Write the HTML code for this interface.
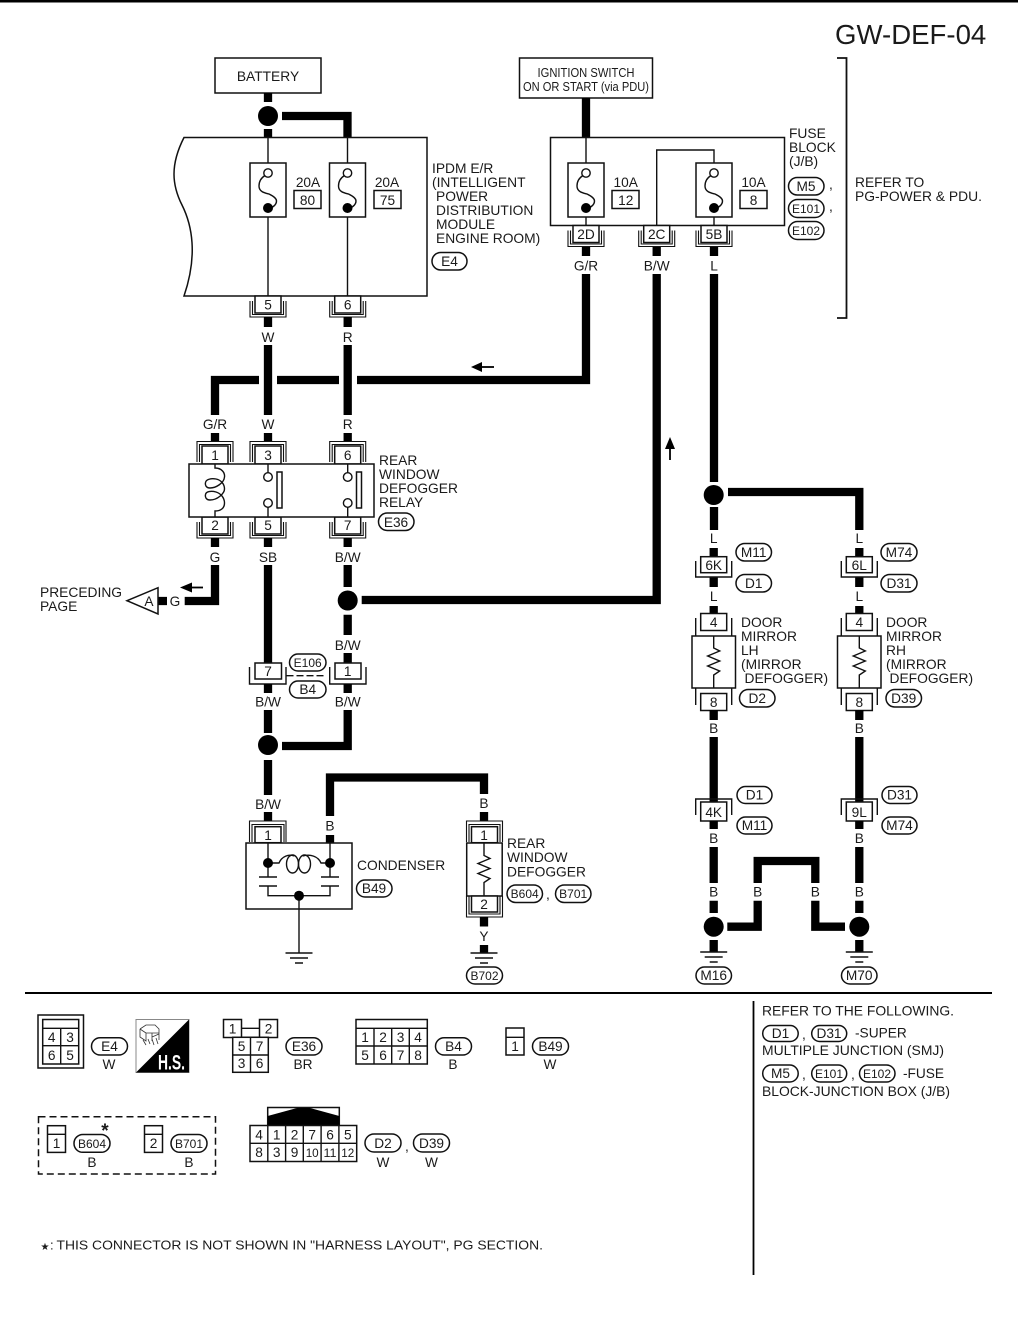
<!DOCTYPE html>
<html lang="en">
<head>
<meta charset="utf-8">
<title>GW-DEF-04</title>
<style>
html,body{margin:0;padding:0;background:#fff}
svg{display:block}
text{font-family:"Liberation Sans",Arial,sans-serif;font-size:13.8px;fill:#1a1a1a}
.m{text-anchor:middle}
.s{font-size:13.7px}
.c{font-size:11.8px}
.w{fill:none;stroke:#000;stroke-width:8.3}
.t{fill:none;stroke:#111;stroke-width:1.4}
.u{fill:none;stroke:#111;stroke-width:1.1}
.a{fill:none;stroke:#000;stroke-width:1.8}
.b{fill:#fff;stroke:#111;stroke-width:1.5}
.p{fill:#fff;stroke:#111;stroke-width:1.5}
</style>
</head>
<body>
<svg xmlns="http://www.w3.org/2000/svg" width="1018" height="1329" viewBox="0 0 1018 1329">
<defs>
<g id="fuse"><rect class="b" x="-18" y="0" width="36" height="54"/><path class="t" d="M-3,12.500C-7,15-9,19-9,23C-9,29-3,30 1,31C5,33 8.500,35 8.500,38C8.500,41 6,44 2,45"/><circle cx="0" cy="10" r="4.200" fill="#fff" stroke="#111" stroke-width="1.400"/><circle cx="0" cy="45" r="5" fill="#000"/></g>
<g id="pinB"><path class="u" d="M-18,5V21H18V5M-15.500,5V18.500H15.500V5"/><rect class="b" x="-13" y="0" width="26" height="17"/></g>
<g id="pinT"><path class="u" d="M-18,16V-4.500H18V16M-15.500,16V-1.500H15.500V16"/><rect class="b" x="-13" y="0" width="26" height="18"/></g>
<g id="gnd"><path class="t" d="M-13.500,0H13.500M-9,5H9M-4,10H4"/></g>
<g id="res"><path class="t" d="M0,0V12L6,15L-6,20L6,25L-6,30L6,35L0,39V52"/></g>
</defs>

<rect x="0" y="0" width="1018" height="2.500" fill="#000"/>
<text x="835" y="44" style="font-size:27.600px">GW-DEF-04</text>

<!-- battery -->
<rect class="b" x="215" y="58" width="106" height="35"/>
<text class="m" x="268" y="81">BATTERY</text>
<path class="w" d="M268,93V102M268,129V138M282,116H347.500V138"/>
<circle cx="268" cy="116" r="10" fill="#000"/>

<!-- IPDM -->
<path class="b" d="M184,137.500H427V296H184C198,255 192,225 182,205C172,185 170,165 184,137.500Z"/>
<path class="t" d="M268,137V296M347.500,137V296"/>
<use href="#fuse" x="268" y="163"/>
<use href="#fuse" x="347.500" y="163"/>
<text class="m s" x="308" y="187">20A</text><rect class="b" x="294" y="190.500" width="27" height="18"/><text class="m s" x="307.500" y="205">80</text>
<text class="m s" x="387" y="187">20A</text><rect class="b" x="374" y="190.500" width="27" height="18"/><text class="m s" x="387.500" y="205">75</text>
<text x="432" y="173">IPDM E/R</text>
<text x="432" y="187">(INTELLIGENT</text>
<text x="436" y="201">POWER</text>
<text x="436" y="215">DISTRIBUTION</text>
<text x="436" y="229">MODULE</text>
<text x="436" y="243">ENGINE ROOM)</text>
<rect class="p" x="432" y="252.500" width="35" height="17.500" rx="8.700"/><text class="m s" x="449.500" y="266">E4</text>
<use href="#pinB" x="268" y="296"/><text class="m s" x="268" y="309.500">5</text>
<use href="#pinB" x="347.700" y="296"/><text class="m s" x="347.700" y="309.500">6</text>

<!-- ignition and fuse block -->
<rect class="b" x="519.500" y="58" width="133" height="40"/>
<text class="m" x="586" y="77" textLength="97" lengthAdjust="spacingAndGlyphs" style="font-size:13px">IGNITION SWITCH</text>
<text class="m" x="586" y="91" textLength="126" lengthAdjust="spacingAndGlyphs" style="font-size:13px">ON OR START (via PDU)</text>
<path class="w" d="M586,98V138"/>
<rect class="b" x="550.500" y="137.500" width="234" height="88"/>
<path class="t" d="M586,137V225M656.700,225V150H714V163M714,217V225"/>
<use href="#fuse" x="586" y="163"/>
<use href="#fuse" x="714" y="163"/>
<text class="m s" x="625.700" y="187">10A</text><rect class="b" x="612" y="190.500" width="27" height="18"/><text class="m s" x="625.700" y="205">12</text>
<text class="m s" x="753.500" y="187">10A</text><rect class="b" x="740" y="190.500" width="27" height="18"/><text class="m s" x="753.500" y="205">8</text>
<use href="#pinB" x="586" y="225.500"/><text class="m s" x="586" y="239">2D</text>
<use href="#pinB" x="656.700" y="225.500"/><text class="m s" x="656.700" y="239">2C</text>
<use href="#pinB" x="714" y="225.500"/><text class="m s" x="714" y="239">5B</text>
<path class="w" d="M586,247V256M656.700,247V256M714,247V256"/>
<text class="m s" x="586" y="270.700">G/R</text><text class="m s" x="656.700" y="270.700">B/W</text><text class="m s" x="714" y="270.700">L</text>
<text x="789" y="138">FUSE</text><text x="789" y="152">BLOCK</text><text x="789" y="166">(J/B)</text>
<rect class="p" x="788.500" y="177.500" width="35.500" height="17.500" rx="8.700"/><text class="m s" x="806" y="191">M5</text><text x="829" y="189" class="s">,</text>
<rect class="p" x="788.500" y="199.500" width="35.500" height="18" rx="9"/><text class="m c" x="806" y="213" textLength="28" lengthAdjust="spacingAndGlyphs">E101</text><text x="829" y="211" class="s">,</text>
<rect class="p" x="788.500" y="221.500" width="35.500" height="18" rx="9"/><text class="m c" x="806" y="235" textLength="28" lengthAdjust="spacingAndGlyphs">E102</text>
<path class="t" d="M837,58H846.500V318H837" style="stroke-width:1.800"/>
<text x="855" y="187">REFER TO</text>
<text x="855" y="201" textLength="127" lengthAdjust="spacingAndGlyphs">PG-POWER &amp; PDU.</text>

<!-- main wires -->
<path class="w" d="M268,317V327M347.700,317V327M268,345V415M347.700,345V415M215,415V380H259M277,380H339M357,380H586V274"/>
<path class="w" d="M215,433V442M268,433V442M347.700,433V442"/>
<path class="w" d="M656.700,274V600H361.700M714,274V482M714,507V530M728,492H859.300V530"/>
<text class="m s" x="268" y="342">W</text><text class="m s" x="347.700" y="342">R</text>
<text class="m s" x="215" y="429">G/R</text><text class="m s" x="268" y="429">W</text><text class="m s" x="347.700" y="429">R</text>
<path d="M471,367L482,362V372Z" fill="#000"/><path class="a" d="M480,367H494"/>
<path d="M670,437L665,449H675Z" fill="#000"/><path class="a" d="M670,447V460"/>
<circle cx="713.700" cy="495" r="10" fill="#000"/>

<!-- relay -->
<use href="#pinT" x="215" y="446"/><text class="m s" x="215" y="460">1</text>
<use href="#pinT" x="268" y="446"/><text class="m s" x="268" y="460">3</text>
<use href="#pinT" x="347.700" y="446"/><text class="m s" x="347.700" y="460">6</text>
<use href="#pinB" x="215" y="517"/><text class="m s" x="215" y="530">2</text>
<use href="#pinB" x="268" y="517"/><text class="m s" x="268" y="530">5</text>
<use href="#pinB" x="347.700" y="517"/><text class="m s" x="347.700" y="530">7</text>
<rect class="b" x="189" y="464" width="185" height="53"/>
<path class="t" d="M215,464V468C222,468 225,473 224.500,477C224,483 216,488 210,488C206,488 205,485 205.500,482.500C206,479.500 211,478 216,479C221,480 224.500,484 224.500,489C224.500,493 218,500 210,500C206,500 205,497 205.500,494.500C206,491.500 211,490.500 216,492C221,493.500 224.500,498 224.500,503C224.500,508 221,511 215,511V517"/>
<path class="t" d="M268,464V472.500M268,507.500V516.500M347.700,464V472.500M347.700,507.500V516.500"/>
<circle cx="268" cy="477" r="4.300" fill="#fff" stroke="#111" stroke-width="1.400"/><circle cx="268" cy="503" r="4.300" fill="#fff" stroke="#111" stroke-width="1.400"/>
<circle cx="347.700" cy="477" r="4.300" fill="#fff" stroke="#111" stroke-width="1.400"/><circle cx="347.700" cy="503" r="4.300" fill="#fff" stroke="#111" stroke-width="1.400"/>
<rect class="b" x="277" y="472" width="5" height="36"/><rect class="b" x="356.500" y="472" width="5" height="36"/>
<text x="379" y="465">REAR</text><text x="379" y="479">WINDOW</text><text x="379" y="493">DEFOGGER</text><text x="379" y="507">RELAY</text>
<rect class="p" x="378.500" y="513" width="35.500" height="17.500" rx="8.700"/><text class="m s" x="396" y="527">E36</text>

<!-- lower left wires -->
<path class="w" d="M215,538V547M268,538V547M347.700,538V547"/>
<text class="m s" x="215" y="562">G</text><text class="m s" x="268" y="562">SB</text><text class="m s" x="347.700" y="562">B/W</text>
<path class="w" d="M215,565V601H184.700M158,601H167"/>
<text class="m s" x="175" y="606">G</text>
<path d="M180,587.500L192,582.500V592.500Z" fill="#000"/><path class="a" d="M190,587.500H203"/>
<path class="b" d="M127,600.700L158,587.700V614Z"/><text class="m s" x="149" y="606">A</text>
<text x="40" y="597">PRECEDING</text><text x="40" y="611">PAGE</text>
<path class="w" d="M268,565V663M347.700,565V587M347.700,614.700V635M347.700,653V663"/>
<circle cx="347.700" cy="600.500" r="10" fill="#000"/>
<text class="m s" x="347.700" y="650">B/W</text>
<path class="t" d="M249.500,667V684H286V667M329.700,667V684H366V667"/>
<rect class="b" x="255" y="663" width="26.500" height="16"/><text class="m s" x="268" y="676">7</text>
<rect class="b" x="335" y="663" width="26" height="16"/><text class="m s" x="347.700" y="676">1</text>
<path class="t" d="M286.500,675.700H326" stroke-dasharray="7 3"/>
<rect class="p" x="289.500" y="654" width="36.500" height="17" rx="8.500"/><text class="m c" x="307.700" y="667" textLength="28" lengthAdjust="spacingAndGlyphs">E106</text>
<rect class="p" x="289.500" y="681" width="36.500" height="17" rx="8.500"/><text class="m s" x="307.700" y="694">B4</text>
<path class="w" d="M268,684V693M347.700,684V693"/>
<text class="m s" x="268" y="706.700">B/W</text><text class="m s" x="347.700" y="706.700">B/W</text>
<path class="w" d="M268,710V733M268,760V795M347.700,710V746H282"/>
<circle cx="268" cy="745" r="10" fill="#000"/>

<!-- condenser -->
<text class="m s" x="268" y="809">B/W</text>
<path class="w" d="M268,812V821M330,816V777.500H484V794M484,812V821M330,835V843"/>
<text class="m s" x="330" y="830.700">B</text><text class="m s" x="484" y="808">B</text>
<path class="u" d="M249.500,842V821H286V842M252,842V824.500H284V842"/>
<rect class="b" x="255" y="826.700" width="26" height="16"/><text class="m s" x="268" y="840">1</text>
<rect class="b" x="246" y="843" width="106" height="66"/>
<path class="t" d="M268,843V877M259,877H277M259,886H277M268,886V895.700H330V886M321,886H339M321,877H339M330,877V843M299,895.700V953"/>
<path class="t" d="M268,863H279C282,856 289,854 294,856M303,856C310,854 318,856 321,863H330"/>
<ellipse class="t" cx="292.500" cy="864" rx="6" ry="9"/><ellipse class="t" cx="304.500" cy="864" rx="6" ry="9"/>
<circle cx="268" cy="863" r="5" fill="#000"/><circle cx="330" cy="863" r="5" fill="#000"/><circle cx="299" cy="895.700" r="5" fill="#000"/>
<use href="#gnd" x="299" y="953"/>
<text x="357" y="870">CONDENSER</text>
<rect class="p" x="356.500" y="880" width="35.500" height="17" rx="8.500"/><text class="m s" x="374" y="893">B49</text>

<!-- defogger -->
<path class="u" d="M466.500,842V821H502.500V842M469,842V824.500H500V842"/>
<rect class="b" x="471.500" y="826.700" width="26" height="16"/><text class="m s" x="484" y="840">1</text>
<rect class="b" x="466.700" y="843" width="35.500" height="53"/>
<use href="#res" x="484" y="843.500"/>
<path class="u" d="M466.500,896V917H502.500V896M469,896V914H500V896"/>
<rect class="b" x="471.500" y="896" width="26" height="16"/><text class="m s" x="484" y="909">2</text>
<path class="w" d="M484,917V926.500M484,945V953"/>
<text class="m s" x="484" y="941">Y</text>
<use href="#gnd" x="484" y="953"/>
<rect class="p" x="466.500" y="967" width="36" height="17" rx="8.500"/><text class="m c" x="484.500" y="980" textLength="28" lengthAdjust="spacingAndGlyphs">B702</text>
<text x="507" y="848">REAR</text><text x="507" y="862">WINDOW</text><text x="507" y="876.500">DEFOGGER</text>
<rect class="p" x="507" y="885" width="35.500" height="17.500" rx="8.700"/><text class="m c" x="524.700" y="898" textLength="28" lengthAdjust="spacingAndGlyphs">B604</text>
<text x="546" y="899" class="s">,</text>
<rect class="p" x="555.500" y="885" width="35.500" height="17.500" rx="8.700"/><text class="m c" x="573.200" y="898" textLength="28" lengthAdjust="spacingAndGlyphs">B701</text>

<!-- door mirrors -->
<text class="m s" x="713.700" y="543">L</text><text class="m s" x="859.300" y="543">L</text>
<path class="w" d="M713.700,548V557M859.300,548V557M713.700,577V587M859.300,577V587M713.700,606V614M859.300,606V614"/>
<path class="t" d="M695.700,561V577H731.700V561M841.300,561V577H877.300V561"/>
<rect class="b" x="700.700" y="556.700" width="26" height="16"/><text class="m s" x="713.700" y="570">6K</text>
<rect class="b" x="846.300" y="556.700" width="26" height="16"/><text class="m s" x="859.300" y="570">6L</text>
<rect class="p" x="736" y="543.500" width="35.500" height="17.500" rx="8.700"/><text class="m s" x="753.700" y="557">M11</text>
<rect class="p" x="736" y="574.500" width="35.500" height="17.500" rx="8.700"/><text class="m s" x="753.700" y="588">D1</text>
<rect class="p" x="881" y="543.500" width="36" height="17.500" rx="8.700"/><text class="m s" x="899" y="557">M74</text>
<rect class="p" x="881" y="574.500" width="36" height="17.500" rx="8.700"/><text class="m s" x="899" y="588">D31</text>
<text class="m s" x="713.700" y="601">L</text><text class="m s" x="859.300" y="601">L</text>
<path class="t" d="M695.700,618V636M731.700,618V636M695.700,688V705M731.700,688V705M841.300,618V636M877.300,618V636M841.300,688V705M877.300,688V705"/>
<rect class="b" x="700.700" y="613.500" width="26" height="17"/><text class="m s" x="713.700" y="627">4</text>
<rect class="b" x="846.300" y="613.500" width="26" height="17"/><text class="m s" x="859.300" y="627">4</text>
<rect class="b" x="692" y="636" width="43.500" height="52"/><rect class="b" x="837.500" y="636" width="43.500" height="52"/>
<use href="#res" x="713.700" y="636"/><use href="#res" x="859.300" y="636"/>
<rect class="b" x="700.700" y="693.500" width="26" height="17"/><text class="m s" x="713.700" y="707">8</text>
<rect class="b" x="846.300" y="693.500" width="26" height="17"/><text class="m s" x="859.300" y="707">8</text>
<text x="741" y="627">DOOR</text><text x="741" y="641">MIRROR</text><text x="741" y="655">LH</text><text x="741" y="669">(MIRROR</text><text x="744.500" y="683">DEFOGGER)</text>
<text x="886" y="627">DOOR</text><text x="886" y="641">MIRROR</text><text x="886" y="655">RH</text><text x="886" y="669">(MIRROR</text><text x="889.500" y="683">DEFOGGER)</text>
<rect class="p" x="739.500" y="689.500" width="35.500" height="17.500" rx="8.700"/><text class="m s" x="757.200" y="703">D2</text>
<rect class="p" x="886" y="689.500" width="35.500" height="17.500" rx="8.700"/><text class="m s" x="903.700" y="703">D39</text>
<path class="w" d="M713.700,710V720M859.300,710V720"/>
<text class="m s" x="713.700" y="733">B</text><text class="m s" x="859.300" y="733">B</text>
<path class="w" d="M713.700,737V803M859.300,737V803"/>
<path class="t" d="M695.700,815V799H731.700V815M841.300,815V799H877.300V815"/>
<rect class="b" x="700.700" y="802" width="26" height="19"/><text class="m s" x="713.700" y="817">4K</text>
<rect class="b" x="846.300" y="802" width="26" height="19"/><text class="m s" x="859.300" y="817">9L</text>
<rect class="p" x="737" y="786.500" width="35" height="17" rx="8.500"/><text class="m s" x="754.500" y="799.500">D1</text>
<rect class="p" x="737" y="817" width="35" height="17" rx="8.500"/><text class="m s" x="754.500" y="830">M11</text>
<rect class="p" x="882" y="786.500" width="35" height="17" rx="8.500"/><text class="m s" x="899.500" y="799.500">D31</text>
<rect class="p" x="882" y="817" width="35" height="17" rx="8.500"/><text class="m s" x="899.500" y="830">M74</text>
<path class="w" d="M713.700,821V829M859.300,821V829M713.700,847V883M859.300,847V883M713.700,900.700V913M859.300,900.700V913M713.700,940V952M859.300,940V952"/>
<text class="m s" x="713.700" y="843">B</text><text class="m s" x="859.300" y="843">B</text>
<text class="m s" x="713.700" y="896.700">B</text><text class="m s" x="859.300" y="896.700">B</text>
<text class="m s" x="757.700" y="896.700">B</text><text class="m s" x="815.300" y="896.700">B</text>
<path class="w" d="M727.300,926.700H757.700V900.700M757.700,883V861H815.300V883M815.300,900.700V926.700H845"/>
<circle cx="713.700" cy="926.700" r="10" fill="#000"/><circle cx="859.300" cy="926.700" r="10" fill="#000"/>
<use href="#gnd" x="713.700" y="952"/><use href="#gnd" x="859.300" y="952"/>
<rect class="p" x="696" y="967" width="35.500" height="17" rx="8.500"/><text class="m s" x="713.700" y="980">M16</text>
<rect class="p" x="841.500" y="967" width="35.500" height="17" rx="8.500"/><text class="m s" x="859.200" y="980">M70</text>

<!-- separators -->
<path d="M25,993H992" stroke="#000" stroke-width="2" fill="none"/>
<path d="M753.500,1001V1275" stroke="#000" stroke-width="1.800" fill="none"/>

<!-- E4 connector -->
<rect class="b" x="38" y="1015" width="45.500" height="53"/>
<rect class="b" x="42.700" y="1019.500" width="36" height="44.500"/>
<path class="t" d="M42.700,1028.300H78.700M42.700,1045.700H78.700M60.700,1028.300V1064"/>
<text class="m s" x="51.700" y="1042">4</text><text class="m s" x="70" y="1042">3</text><text class="m s" x="51.700" y="1060">6</text><text class="m s" x="70" y="1060">5</text>
<rect class="p" x="91.500" y="1037.700" width="36" height="17.300" rx="8.600"/><text class="m s" x="109.500" y="1051">E4</text>
<text class="m s" x="109" y="1069">W</text>

<!-- H.S. icon -->
<rect x="136" y="1019.500" width="53" height="53" fill="#fff" stroke="#888" stroke-width="1"/>
<path d="M189,1019.500V1072.500H136Z" fill="#000"/>
<path d="M140,1029L146,1025H155L159,1029V1034L152,1037M140,1029V1037L146,1041V1033L140,1029M146,1033H159M152,1033V1041M159,1034V1040M143,1040L146,1045M148,1039L150,1044M152,1039L154,1045M156,1038L158,1044" fill="none" stroke="#333" stroke-width="0.800"/>
<text x="158" y="1069.500" style="font-size:21px;font-weight:bold;fill:#fff" textLength="27" lengthAdjust="spacingAndGlyphs">H.S.</text>

<!-- E36 connector -->
<rect class="b" x="223.500" y="1019.500" width="18" height="18"/><rect class="b" x="259.500" y="1019.500" width="18" height="18"/>
<path class="t" d="M241.500,1028.300H259.500M241.500,1037.300H259.500"/>
<rect class="b" x="232.700" y="1037.300" width="35.600" height="35"/>
<path class="t" d="M250.500,1037.300V1072.300M232.700,1055H268.300"/>
<text class="m s" x="232.500" y="1033.500">1</text><text class="m s" x="268.500" y="1033.500">2</text>
<text class="m s" x="241.500" y="1051">5</text><text class="m s" x="259.500" y="1051">7</text><text class="m s" x="241.500" y="1068">3</text><text class="m s" x="259.500" y="1068">6</text>
<rect class="p" x="286" y="1037.700" width="36" height="17.300" rx="8.600"/><text class="m s" x="304" y="1051">E36</text>
<text class="m s" x="303" y="1069">BR</text>

<!-- B4 connector -->
<rect class="b" x="356" y="1019.500" width="71.300" height="44.500"/>
<path class="t" d="M356,1028.300H427.300M356,1046H427.300M374,1028.300V1064M391.700,1028.300V1064M409.300,1028.300V1064"/>
<text class="m s" x="365" y="1042">1</text><text class="m s" x="383" y="1042">2</text><text class="m s" x="400.500" y="1042">3</text><text class="m s" x="418" y="1042">4</text>
<text class="m s" x="365" y="1060">5</text><text class="m s" x="383" y="1060">6</text><text class="m s" x="400.500" y="1060">7</text><text class="m s" x="418" y="1060">8</text>
<rect class="p" x="435.500" y="1037.700" width="36" height="17.300" rx="8.600"/><text class="m s" x="453.500" y="1051">B4</text>
<text class="m s" x="453" y="1069">B</text>

<!-- B49 connector -->
<rect class="b" x="506" y="1028" width="18" height="27"/><path class="t" d="M506,1037.300H524"/>
<text class="m s" x="515" y="1051">1</text>
<rect class="p" x="532.500" y="1037.700" width="36" height="17.300" rx="8.600"/><text class="m s" x="550.500" y="1051">B49</text>
<text class="m s" x="550" y="1069">W</text>

<!-- dashed group -->
<rect x="38.500" y="1116.700" width="177" height="57.300" fill="none" stroke="#111" stroke-width="1.500" stroke-dasharray="7 4"/>
<rect class="b" x="47.500" y="1125.700" width="18" height="26.700"/><path class="t" d="M47.500,1134.300H65.500"/><text class="m s" x="56.500" y="1148">1</text>
<rect class="p" x="74" y="1134.500" width="36" height="17.800" rx="8.800"/><text class="m c" x="92" y="1148" textLength="28" lengthAdjust="spacingAndGlyphs">B604</text>
<text class="m" x="105" y="1137" style="font-size:19px;font-weight:bold">*</text>
<text class="m s" x="92" y="1167">B</text>
<rect class="b" x="144.500" y="1125.700" width="18" height="26.700"/><path class="t" d="M144.500,1134.300H162.500"/><text class="m s" x="153.500" y="1148">2</text>
<rect class="p" x="171" y="1134.500" width="36" height="17.800" rx="8.800"/><text class="m c" x="189" y="1148" textLength="28" lengthAdjust="spacingAndGlyphs">B701</text>
<text class="m s" x="189" y="1167">B</text>

<!-- 12 pin connector -->
<rect class="b" x="267.700" y="1107.500" width="71.600" height="18"/>
<path d="M267.700,1116L297,1108H310L339.300,1116V1125.500H267.700Z" fill="#000"/>
<rect class="b" x="250" y="1125.500" width="106.700" height="36"/>
<path class="t" d="M250,1143.300H356.700M267.800,1125.500V1161.500M285.600,1125.500V1161.500M303.300,1125.500V1161.500M321.100,1125.500V1161.500M338.900,1125.500V1161.500"/>
<text class="m s" x="259" y="1139.500">4</text><text class="m s" x="276.700" y="1139.500">1</text><text class="m s" x="294.500" y="1139.500">2</text><text class="m s" x="312.200" y="1139.500">7</text><text class="m s" x="330" y="1139.500">6</text><text class="m s" x="347.800" y="1139.500">5</text>
<text class="m s" x="259" y="1157">8</text><text class="m s" x="276.700" y="1157">3</text><text class="m s" x="294.500" y="1157">9</text>
<text class="m c" x="312.200" y="1157" textLength="13" lengthAdjust="spacingAndGlyphs">10</text><text class="m c" x="330" y="1157" textLength="13" lengthAdjust="spacingAndGlyphs">11</text><text class="m c" x="347.800" y="1157" textLength="13" lengthAdjust="spacingAndGlyphs">12</text>
<rect class="p" x="365" y="1134" width="36" height="18" rx="9"/><text class="m s" x="383" y="1148">D2</text>
<text x="405" y="1151" class="s">,</text>
<rect class="p" x="413.500" y="1134" width="36" height="18" rx="9"/><text class="m s" x="431.500" y="1148">D39</text>
<text class="m s" x="383" y="1167">W</text><text class="m s" x="431.500" y="1167">W</text>

<!-- footnote -->
<text class="m" x="45" y="1250" style="font-family:'DejaVu Sans',sans-serif;font-size:10px">★</text>
<text x="50" y="1249.500" style="font-size:13px">:</text>
<text x="56.500" y="1249.500" textLength="486.500" lengthAdjust="spacingAndGlyphs" style="font-size:13px">THIS CONNECTOR IS NOT SHOWN IN "HARNESS LAYOUT", PG SECTION.</text>

<!-- refer panel -->
<text x="762" y="1015.500" textLength="192" lengthAdjust="spacingAndGlyphs" class="s">REFER TO THE FOLLOWING.</text>
<rect class="p" x="762.700" y="1025.500" width="35.500" height="16" rx="8"/><text class="m s" x="780.500" y="1038">D1</text>
<text x="802" y="1039" class="s">,</text>
<rect class="p" x="811.700" y="1025.500" width="35" height="16" rx="8"/><text class="m s" x="829" y="1038">D31</text>
<text x="855" y="1037.500" class="s">-SUPER</text>
<text x="762" y="1055" textLength="182" lengthAdjust="spacingAndGlyphs" class="s">MULTIPLE JUNCTION (SMJ)</text>
<rect class="p" x="762.700" y="1065" width="35.500" height="17" rx="8.500"/><text class="m s" x="780.500" y="1078">M5</text>
<text x="802" y="1079" class="s">,</text>
<rect class="p" x="811.700" y="1065" width="35" height="17" rx="8.500"/><text class="m c" x="829" y="1078" textLength="28" lengthAdjust="spacingAndGlyphs">E101</text>
<text x="851" y="1079" class="s">,</text>
<rect class="p" x="859.500" y="1065" width="35.500" height="17" rx="8.500"/><text class="m c" x="877" y="1078" textLength="28" lengthAdjust="spacingAndGlyphs">E102</text>
<text x="903" y="1078" class="s">-FUSE</text>
<text x="762" y="1096" textLength="188" lengthAdjust="spacingAndGlyphs" class="s">BLOCK-JUNCTION BOX (J/B)</text>
</svg>
</body>
</html>
